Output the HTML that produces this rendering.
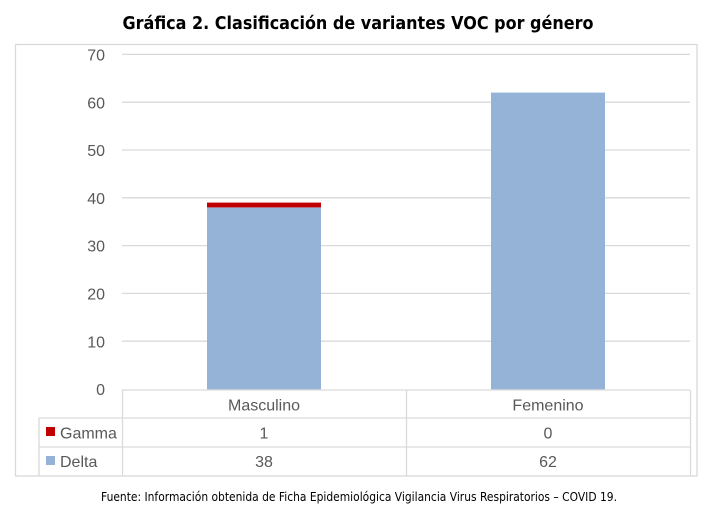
<!DOCTYPE html>
<html><head><meta charset="utf-8"><style>
html,body{margin:0;padding:0;background:#fff;}
svg{display:block;}
</style></head><body>
<svg width="723" height="525" viewBox="0 0 723 525" xmlns="http://www.w3.org/2000/svg" font-family="'Liberation Sans', sans-serif">
<rect width="723" height="525" fill="#fff"/>
<text x="122.5" y="29" font-size="18" font-weight="bold" fill="#000" textLength="471" lengthAdjust="spacingAndGlyphs" font-family="'DejaVu Sans','Liberation Sans',sans-serif">Gráfica 2. Clasificación de variantes VOC por género</text>
<rect x="15.5" y="44.5" width="681.5" height="431.5" fill="none" stroke="#d9d9d9" stroke-width="1.3"/>
<g stroke="#d9d9d9" stroke-width="1.3">
<line x1="122" y1="54.4" x2="690" y2="54.4"/>
<line x1="122" y1="102.2" x2="690" y2="102.2"/>
<line x1="122" y1="150" x2="690" y2="150"/>
<line x1="122" y1="197.8" x2="690" y2="197.8"/>
<line x1="122" y1="245.6" x2="690" y2="245.6"/>
<line x1="122" y1="293.4" x2="690" y2="293.4"/>
<line x1="122" y1="341.2" x2="690" y2="341.2"/>
</g>
<g fill="#595959" font-size="16" text-anchor="end">
<text x="105" y="60.5">70</text>
<text x="105" y="108.3">60</text>
<text x="105" y="156.1">50</text>
<text x="105" y="203.9">40</text>
<text x="105" y="251.7">30</text>
<text x="105" y="299.5">20</text>
<text x="105" y="347.3">10</text>
<text x="105" y="395.1">0</text>
</g>
<rect x="207" y="207.4" width="114" height="182" fill="#95b3d7"/>
<rect x="207" y="202.6" width="114" height="4.8" fill="#c00000"/>
<rect x="491" y="92.6" width="114" height="296.8" fill="#95b3d7"/>
<g stroke="#d9d9d9" stroke-width="1.3">
<line x1="122" y1="390" x2="690" y2="390"/>
<line x1="39" y1="418" x2="690" y2="418"/>
<line x1="39" y1="447" x2="690" y2="447"/>
<line x1="39" y1="418" x2="39" y2="476"/>
<line x1="122.5" y1="390" x2="122.5" y2="476"/>
<line x1="406.5" y1="390" x2="406.5" y2="476"/>
<line x1="690.5" y1="390" x2="690.5" y2="476"/>
</g>
<g fill="#595959" font-size="16" text-anchor="middle">
<text x="264" y="410.5">Masculino</text>
<text x="548" y="410.5">Femenino</text>
<text x="264" y="438.5">1</text>
<text x="548" y="438.5">0</text>
<text x="264" y="467">38</text>
<text x="548" y="467">62</text>
</g>
<rect x="46" y="427" width="9" height="9" fill="#c00000"/>
<text x="60" y="438.5" font-size="16" fill="#595959">Gamma</text>
<rect x="46" y="456" width="9" height="9" fill="#95b3d7"/>
<text x="60" y="467" font-size="16" fill="#595959">Delta</text>
<text x="101" y="501" font-size="12" fill="#000" textLength="516" lengthAdjust="spacingAndGlyphs" font-family="'DejaVu Sans','Liberation Sans',sans-serif">Fuente: Información obtenida de Ficha Epidemiológica Vigilancia Virus Respiratorios – COVID 19.</text>
</svg>
</body></html>
